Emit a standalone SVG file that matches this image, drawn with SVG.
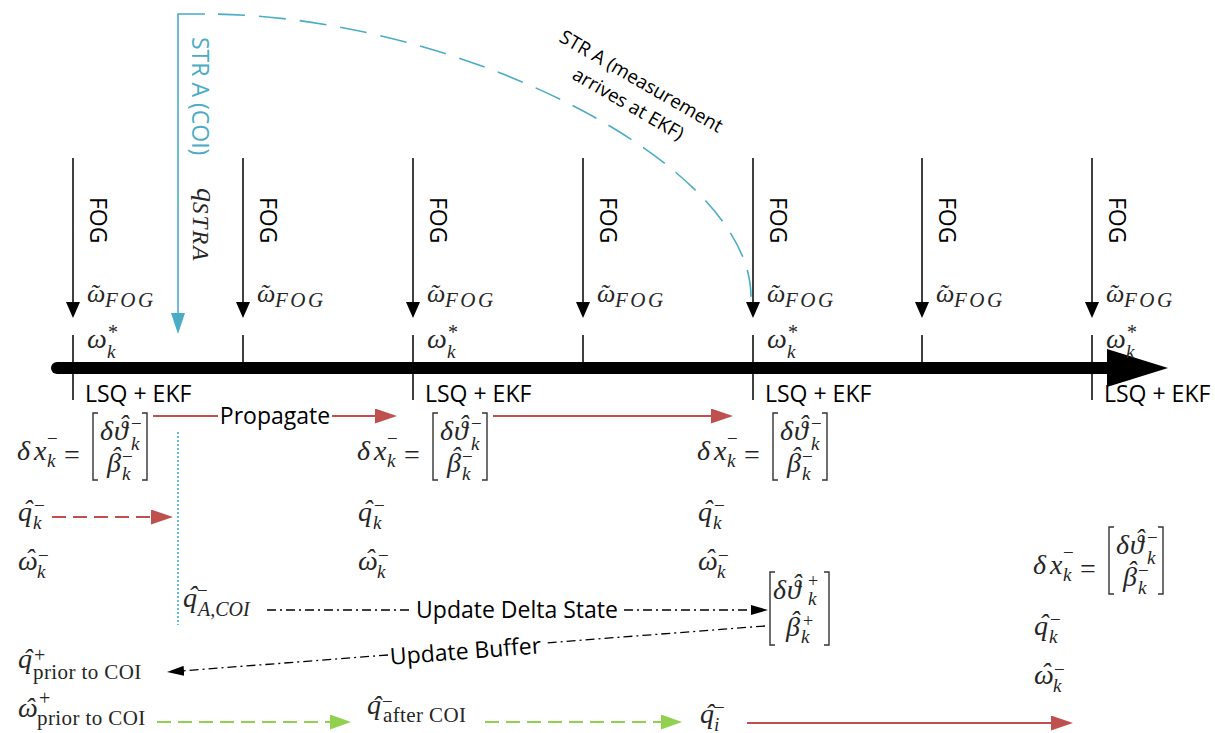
<svg xmlns="http://www.w3.org/2000/svg" width="1215" height="733" viewBox="0 0 1215 733">
<style>
.lbl{font-family:"Open Sans","Segoe UI",sans-serif;font-size:23px;fill:#000}
.ann{font-family:"Open Sans","Segoe UI",sans-serif;font-size:19px;fill:#000}
.blue{fill:#4bacc6}
.m{font-family:"Liberation Serif","Times New Roman",serif;font-style:italic;font-size:28px;fill:#262626}
.s{font-size:19px}
.sf{font-size:21px;letter-spacing:2.5px}
.sp{font-style:normal;font-size:19px}
.rs{font-style:normal;font-size:21px;letter-spacing:0.4px}
.br{fill:none;stroke:#333;stroke-width:1.4}
.tick{stroke:#000;stroke-width:1.5}
.fog{stroke:#000;stroke-width:1.5;fill:none}
.red{stroke:#c0504d;stroke-width:2;fill:none}
.dash{stroke-dasharray:14 7}
.green{stroke:#92d050;stroke-width:2;fill:none;stroke-dasharray:14 7}
.dd{stroke:#000;stroke-width:1.3;fill:none;stroke-dasharray:9 4 2 4}
.bl{stroke:#4bacc6;stroke-width:1.6;fill:none}
</style>
<defs>
<marker id="aBlk" viewBox="0 0 16 14" refX="8" refY="7" markerWidth="16" markerHeight="14" markerUnits="userSpaceOnUse" orient="auto"><path d="M0,0L16,7L0,14z" fill="#000"/></marker>
<marker id="aBlue" viewBox="0 0 21 14" refX="10" refY="7" markerWidth="21" markerHeight="14" markerUnits="userSpaceOnUse" orient="auto"><path d="M0,0L21,7L0,14z" fill="#4bacc6"/></marker>
<marker id="aRed" viewBox="0 0 22 15" refX="11" refY="7.5" markerWidth="22" markerHeight="15" markerUnits="userSpaceOnUse" orient="auto"><path d="M0,0L22,7.5L0,15z" fill="#c0504d"/></marker>
<marker id="aGreen" viewBox="0 0 21 15" refX="11" refY="7.5" markerWidth="21" markerHeight="15" markerUnits="userSpaceOnUse" orient="auto"><path d="M0,0L21,7.5L0,15z" fill="#92d050"/></marker>
<marker id="aDd" viewBox="0 0 17 10" refX="8" refY="5" markerWidth="17" markerHeight="10" markerUnits="userSpaceOnUse" orient="auto"><path d="M0,0L17,5L0,10z" fill="#000"/></marker>
</defs>

<g id="timeline">
<line x1="57" y1="368" x2="1112" y2="368" stroke="#000" stroke-width="12" stroke-linecap="round"/>
<polygon points="1107,349 1168,368 1107,387" fill="#000"/>
</g>

<g id="connectors">
<path class="fog" d="M73,158V310" marker-end="url(#aBlk)"/>
<path class="fog" d="M243,158V310" marker-end="url(#aBlk)"/>
<path class="fog" d="M413,158V310" marker-end="url(#aBlk)"/>
<path class="fog" d="M583,158V310" marker-end="url(#aBlk)"/>
<path class="fog" d="M753,158V310" marker-end="url(#aBlk)"/>
<path class="fog" d="M922,158V310" marker-end="url(#aBlk)"/>
<path class="fog" d="M1092,158V310" marker-end="url(#aBlk)"/>
<path class="bl" d="M205,14H178V323" marker-end="url(#aBlue)"/>
<path class="bl" d="M205,14C450,14 751,160 751,297" stroke-dasharray="27 14" stroke-dashoffset="28"/>
<line x1="178" y1="432" x2="178" y2="625" stroke="#31a9d6" stroke-width="1.5" stroke-dasharray="2 2"/>
<path class="red" d="M153,416H218M332,416H386" marker-end="url(#aRed)"/>
<path class="red" d="M493,416H722" marker-end="url(#aRed)"/>
<path class="red dash" d="M52,517H162" marker-end="url(#aRed)"/>
<path class="dd" d="M267,610H410M624,610H759" marker-end="url(#aDd)"/>
<path class="dd" d="M765,626L545,643M388,655L176,671.4" marker-end="url(#aDd)"/>
<path class="green" d="M157,722H341" marker-end="url(#aGreen)"/>
<path class="green" d="M485,722H672" marker-end="url(#aGreen)"/>
<path class="red" d="M747,723H1062" marker-end="url(#aRed)"/>
</g>

<g id="connector-labels">
<text class="lbl" x="275" y="424" text-anchor="middle">Propagate</text>
<text class="lbl" x="517" y="618" text-anchor="middle">Update Delta State</text>
<text class="lbl" transform="translate(466,659) rotate(-4.4)" text-anchor="middle">Update Buffer</text>
</g>

<g id="str-a-coi">
<text class="lbl blue" transform="translate(192,37) rotate(90)">STR A (COI)</text>
<text class="m" transform="translate(197,188) rotate(90)">q<tspan style="font-size:23px" dy="4" letter-spacing="2">STRA</tspan></text>
</g>

<g id="str-a-arrival">
<text class="ann" transform="translate(638,87) rotate(30)" text-anchor="middle"><tspan x="0" y="0">STR A (measurement</tspan><tspan x="0" y="26">arrives at EKF)</tspan></text>
</g>

<g id="sample-0">
<line class="tick" x1="73" y1="335" x2="73" y2="400"/>
<text class="lbl" transform="translate(90,197) rotate(90)">FOG</text>
<text class="m"><tspan style="font-size:26px" x="87 90" y="302 302">ω˜</tspan><tspan class="sf" x="105" y="307">FOG</tspan></text>
<text class="m"><tspan x="87" y="348">ω</tspan><tspan class="sp" style="font-size:20px" x="108" y="339">*</tspan><tspan class="s" x="107" y="358">k</tspan></text>
<text class="lbl" x="85" y="402">LSQ + EKF</text>
</g>
<g id="sample-1">
<line class="tick" x1="243" y1="335" x2="243" y2="368"/>
<text class="lbl" transform="translate(260,197) rotate(90)">FOG</text>
<text class="m"><tspan style="font-size:26px" x="257 260" y="302 302">ω˜</tspan><tspan class="sf" x="275" y="307">FOG</tspan></text>
</g>
<g id="sample-2">
<line class="tick" x1="413" y1="335" x2="413" y2="400"/>
<text class="lbl" transform="translate(430,197) rotate(90)">FOG</text>
<text class="m"><tspan style="font-size:26px" x="427 430" y="302 302">ω˜</tspan><tspan class="sf" x="445" y="307">FOG</tspan></text>
<text class="m"><tspan x="427" y="348">ω</tspan><tspan class="sp" style="font-size:20px" x="448" y="339">*</tspan><tspan class="s" x="447" y="358">k</tspan></text>
<text class="lbl" x="425" y="402">LSQ + EKF</text>
</g>
<g id="sample-3">
<line class="tick" x1="583" y1="335" x2="583" y2="368"/>
<text class="lbl" transform="translate(600,197) rotate(90)">FOG</text>
<text class="m"><tspan style="font-size:26px" x="597 600" y="302 302">ω˜</tspan><tspan class="sf" x="615" y="307">FOG</tspan></text>
</g>
<g id="sample-4">
<line class="tick" x1="753" y1="335" x2="753" y2="400"/>
<text class="lbl" transform="translate(770,197) rotate(90)">FOG</text>
<text class="m"><tspan style="font-size:26px" x="767 770" y="302 302">ω˜</tspan><tspan class="sf" x="785" y="307">FOG</tspan></text>
<text class="m"><tspan x="767" y="348">ω</tspan><tspan class="sp" style="font-size:20px" x="788" y="339">*</tspan><tspan class="s" x="787" y="358">k</tspan></text>
<text class="lbl" x="765" y="402">LSQ + EKF</text>
</g>
<g id="sample-5">
<line class="tick" x1="922" y1="335" x2="922" y2="368"/>
<text class="lbl" transform="translate(939,197) rotate(90)">FOG</text>
<text class="m"><tspan style="font-size:26px" x="936 939" y="302 302">ω˜</tspan><tspan class="sf" x="954" y="307">FOG</tspan></text>
</g>
<g id="sample-6">
<line class="tick" x1="1092" y1="335" x2="1092" y2="400"/>
<text class="lbl" transform="translate(1109,197) rotate(90)">FOG</text>
<text class="m"><tspan style="font-size:26px" x="1106 1109" y="302 302">ω˜</tspan><tspan class="sf" x="1124" y="307">FOG</tspan></text>
<text class="m"><tspan x="1106" y="348">ω</tspan><tspan class="sp" style="font-size:20px" x="1127" y="339">*</tspan><tspan class="s" x="1126" y="358">k</tspan></text>
<text class="lbl" x="1104" y="402">LSQ + EKF</text>
</g>

<g id="state-0">
<text class="m"><tspan x="17 34" y="460 460">δx</tspan><tspan class="sp" x="47" y="445">−</tspan><tspan class="s" x="47" y="467">k</tspan><tspan class="sp" style="font-size:28px" x="64" y="464">=</tspan></text>
<path class="br" d="M98,413H93V480H98M142,413H147V480H142"/>
<text class="m"><tspan x="100 114 119" y="440 440 434">δϑˆ</tspan><tspan class="sp" x="131" y="430">−</tspan><tspan class="s" x="131" y="450">k</tspan></text>
<text class="m"><tspan x="107 111" y="472 466">βˆ</tspan><tspan class="sp" x="122" y="463">−</tspan><tspan class="s" x="122" y="480">k</tspan></text>
<text class="m"><tspan x="18 23" y="521 519">qˆ</tspan><tspan class="sp" x="34" y="512">−</tspan><tspan class="s" x="33" y="529">k</tspan></text>
<text class="m"><tspan x="18 25" y="570 568">ωˆ</tspan><tspan class="sp" x="38" y="562">−</tspan><tspan class="s" x="37" y="578">k</tspan></text>
</g>
<g id="state-1" transform="translate(340,0)">
<text class="m"><tspan x="17 34" y="460 460">δx</tspan><tspan class="sp" x="47" y="445">−</tspan><tspan class="s" x="47" y="467">k</tspan><tspan class="sp" style="font-size:28px" x="64" y="464">=</tspan></text>
<path class="br" d="M98,413H93V480H98M142,413H147V480H142"/>
<text class="m"><tspan x="100 114 119" y="440 440 434">δϑˆ</tspan><tspan class="sp" x="131" y="430">−</tspan><tspan class="s" x="131" y="450">k</tspan></text>
<text class="m"><tspan x="107 111" y="472 466">βˆ</tspan><tspan class="sp" x="122" y="463">−</tspan><tspan class="s" x="122" y="480">k</tspan></text>
<text class="m"><tspan x="18 23" y="521 519">qˆ</tspan><tspan class="sp" x="34" y="512">−</tspan><tspan class="s" x="33" y="529">k</tspan></text>
<text class="m"><tspan x="18 25" y="570 568">ωˆ</tspan><tspan class="sp" x="38" y="562">−</tspan><tspan class="s" x="37" y="578">k</tspan></text>
</g>
<g id="state-2" transform="translate(680,0)">
<text class="m"><tspan x="17 34" y="460 460">δx</tspan><tspan class="sp" x="47" y="445">−</tspan><tspan class="s" x="47" y="467">k</tspan><tspan class="sp" style="font-size:28px" x="64" y="464">=</tspan></text>
<path class="br" d="M98,413H93V480H98M142,413H147V480H142"/>
<text class="m"><tspan x="100 114 119" y="440 440 434">δϑˆ</tspan><tspan class="sp" x="131" y="430">−</tspan><tspan class="s" x="131" y="450">k</tspan></text>
<text class="m"><tspan x="107 111" y="472 466">βˆ</tspan><tspan class="sp" x="122" y="463">−</tspan><tspan class="s" x="122" y="480">k</tspan></text>
<text class="m"><tspan x="18 23" y="521 519">qˆ</tspan><tspan class="sp" x="34" y="512">−</tspan><tspan class="s" x="33" y="529">k</tspan></text>
<text class="m"><tspan x="18 25" y="570 568">ωˆ</tspan><tspan class="sp" x="38" y="562">−</tspan><tspan class="s" x="37" y="578">k</tspan></text>
</g>
<g id="state-3" transform="translate(1016,114)">
<text class="m"><tspan x="17 34" y="460 460">δx</tspan><tspan class="sp" x="47" y="445">−</tspan><tspan class="s" x="47" y="467">k</tspan><tspan class="sp" style="font-size:28px" x="64" y="464">=</tspan></text>
<path class="br" d="M98,413H93V480H98M142,413H147V480H142"/>
<text class="m"><tspan x="100 114 119" y="440 440 434">δϑˆ</tspan><tspan class="sp" x="131" y="430">−</tspan><tspan class="s" x="131" y="450">k</tspan></text>
<text class="m"><tspan x="107 111" y="472 466">βˆ</tspan><tspan class="sp" x="122" y="463">−</tspan><tspan class="s" x="122" y="480">k</tspan></text>
<text class="m"><tspan x="18 23" y="521 519">qˆ</tspan><tspan class="sp" x="34" y="512">−</tspan><tspan class="s" x="33" y="529">k</tspan></text>
<text class="m"><tspan x="18 25" y="570 568">ωˆ</tspan><tspan class="sp" x="38" y="562">−</tspan><tspan class="s" x="37" y="578">k</tspan></text>
</g>

<g id="q-a-coi">
<text class="m"><tspan x="183 188" y="607 605">qˆ</tspan><tspan class="sp" x="197" y="597">−</tspan><tspan style="font-size:20px" x="198" y="616">A,COI</tspan></text>
</g>

<g id="delta-state-update">
<path class="br" d="M775,572H770V645H775M824,572H829V645H824"/>
<text class="m"><tspan x="773 787 792" y="599 599 593">δϑˆ</tspan><tspan class="sp" style="font-size:18px" x="808" y="587">+</tspan><tspan class="s" x="808" y="605">k</tspan></text>
<text class="m"><tspan x="786 790" y="636 630">βˆ</tspan><tspan class="sp" style="font-size:18px" x="803" y="627">+</tspan><tspan class="s" x="801" y="643">k</tspan></text>
</g>

<g id="q-prior">
<text class="m"><tspan x="18 23" y="668 668">qˆ</tspan><tspan class="sp" style="font-size:20px" x="34" y="662">+</tspan><tspan class="rs" x="33" y="679">prior to COI</tspan></text>
</g>
<g id="w-prior">
<text class="m"><tspan x="18 25" y="717 717">ωˆ</tspan><tspan class="sp" style="font-size:20px" x="39" y="705">+</tspan><tspan class="rs" x="37" y="725">prior to COI</tspan></text>
</g>
<g id="q-after">
<text class="m"><tspan x="367 372" y="714 715">qˆ</tspan><tspan class="sp" x="382" y="708">−</tspan><tspan class="rs" x="383" y="722">after COI</tspan></text>
</g>
<g id="q-i">
<text class="m"><tspan x="700 705" y="723 723">qˆ</tspan><tspan class="sp" x="714" y="714">−</tspan><tspan class="s" x="714" y="731">i</tspan></text>
</g>
</svg>
